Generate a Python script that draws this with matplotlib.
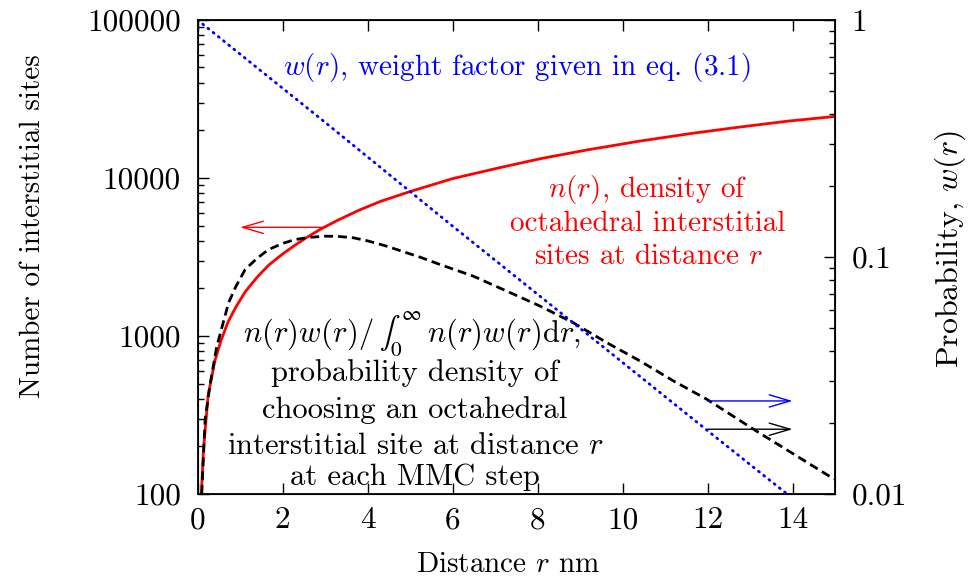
import matplotlib
matplotlib.use("Agg")
import matplotlib.pyplot as plt
from matplotlib.offsetbox import TextArea, HPacker, AnnotationBbox

# n(r), red solid, left axis
r_n = [0.09, 0.14, 0.25, 0.41, 0.55, 0.72, 0.9, 1.12, 1.4, 1.67, 2.0, 2.29, 2.6, 2.9, 3.3, 3.8,
       4.3, 5.0, 6.0, 7.1, 8.1, 9.2, 10.4, 11.6, 12.7, 13.9, 15.0]
n_vals = [100, 190, 420, 700, 930, 1230, 1520, 1900, 2350, 2800, 3300, 3750, 4250, 4750, 5400, 6250,
          7100, 8200, 9900, 11600, 13300, 15100, 17100, 19100, 20900, 22900, 24500]

# normalised n(r)w(r), black dashed, left axis
r_p = [0.1, 0.18, 0.29, 0.45, 0.73, 0.9, 1.12, 1.4, 1.67, 2.0, 2.29, 2.6, 3.0, 3.3, 3.67, 4.0,
       4.45, 5.24, 5.71, 6.49, 7.28, 8.06, 8.84, 9.63, 10.41, 11.2, 11.98, 13.08, 14.92, 15.0]
p_vals = [100, 297, 483, 850, 1620, 2050, 2630, 3100, 3520, 3850, 4070, 4200, 4280, 4270, 4180, 4000,
          3700, 3150, 2830, 2390, 1920, 1545, 1213, 907, 695, 519, 398, 257, 127, 124]

# w(r), blue dotted, right axis
r_w = [0.0, 3.0, 6.0, 9.0, 12.0, 13.87]
w_vals = [1.0, 0.37, 0.135, 0.05, 0.0185, 0.01]

xticks = [0, 2, 4, 6, 8, 10, 12, 14]
yticks_left = [100, 1000, 10000, 100000]
yticks_right = [0.01, 0.1, 1]

plt.rcParams["font.family"] = "serif"
plt.rcParams["font.serif"] = ["cmr10"]
plt.rcParams["mathtext.fontset"] = "cm"
plt.rcParams["axes.unicode_minus"] = False
plt.rcParams["axes.formatter.use_mathtext"] = True

fs = 21
tfs = 22.5
bfs = 22
fig = plt.figure(figsize=(9.71, 5.86), dpi=100)
fig.subplots_adjust(left=0.2034, right=0.86, bottom=0.157, top=0.966)
ax = fig.add_subplot(111)
ax2 = ax.twinx()

ax.plot(r_n, n_vals, color="#ff0000", lw=2.0)
ax.plot(r_p, p_vals, color="black", lw=2.0, dashes=(3.2, 1.8))
ax2.plot(r_w, w_vals, color="#0000ff", lw=2.0, dashes=(0.4, 2.0), dash_capstyle="round")

ax.set_xlim(0, 15)
ax.set_yscale("log")
ax.set_ylim(100, 100000)
ax2.set_yscale("log")
ax2.set_ylim(0.01, 1)

ax.set_xticks(xticks)
ax.set_xticklabels([str(t) for t in xticks], fontsize=tfs)
ax.set_yticks(yticks_left)
ax.set_yticklabels([str(t) for t in yticks_left], fontsize=tfs)
ax2.set_yticks(yticks_right)
ax2.set_yticklabels(["0.01", "0.1", "1"], fontsize=tfs)

ax.tick_params(axis="x", which="both", direction="in", top=True, length=8, width=1, pad=9)
ax.tick_params(axis="y", which="major", direction="in", left=True, right=False, length=8, width=1, pad=12)
ax.tick_params(axis="y", which="minor", direction="in", left=True, right=False, length=4, width=1)
ax2.tick_params(axis="y", which="major", direction="in", length=8, width=1, pad=12)
ax2.tick_params(axis="y", which="minor", direction="in", length=4, width=1)
ax2.yaxis.set_minor_formatter(matplotlib.ticker.NullFormatter())
ax.yaxis.set_minor_formatter(matplotlib.ticker.NullFormatter())
for sp in ax.spines.values():
    sp.set_linewidth(1.3)

ax.set_xlabel(r"Distance $r$ nm", fontsize=fs, va="center")
ax.xaxis.set_label_coords(0.487, -0.15)
ax.set_ylabel("Number of interstitial sites", fontsize=fs, va="center")
ax.yaxis.set_label_coords(-0.258, 0.565)
ax2.set_ylabel(r"Probability, $w(r)$", fontsize=23, va="center")
ax2.yaxis.set_label_coords(1.181, 0.517)

# arrows pointing to the axis each curve belongs to
arrows = [((2.95, 4870), (1.0, 4870), "#ff0000"),
          ((12.0, 388), (14.0, 388), "#0000ff"),
          ((12.0, 257), (14.0, 257), "black")]
for start, end, col in arrows:
    ax.annotate("", xy=end, xytext=start,
                arrowprops=dict(arrowstyle="->,head_length=0.75,head_width=0.22",
                                color=col, lw=1.0, mutation_scale=20,
                                shrinkA=0, shrinkB=0))

ax.text(0.501, 0.899, r"$w(r)$, weight factor given in eq. (3.1)", color="#0000ff",
        fontsize=fs, ha="center", va="center", transform=ax.transAxes)

red_lines = [r"$n(r)$, density of", "octahedral interstitial", r"sites at distance $r$"]
red_y = [190, 224, 257]
for txt, py in zip(red_lines, red_y):
    ax.text((648 - 197.5) / 637.5, (494 - py) / 474.0, txt, color="#ff0000",
            fontsize=fs, ha="center", va="center", transform=ax.transAxes)

# first black line: the integral comes from the stix set so it stays text sized
parts = [TextArea(r"$n(r)w(r)/$", textprops=dict(fontsize=bfs)),
         TextArea(r"$\int_0^\infty$", textprops=dict(fontsize=bfs, math_fontfamily="stix")),
         TextArea(r"$n(r)w(r)\mathrm{d}r$,", textprops=dict(fontsize=bfs))]
line1 = HPacker(children=parts, align="baseline", pad=0, sep=4)
ab = AnnotationBbox(line1, ((412 - 197.5) / 637.5, (494 - 334) / 474.0), xycoords="axes fraction",
                    frameon=False, box_alignment=(0.5, 0.5), pad=0)
ax.add_artist(ab)

black_lines = ["probability density of", "choosing an octahedral",
               r"interstitial site at distance $r$", "at each MMC step"]
black_y = [373, 410, 446, 477]
for txt, py in zip(black_lines, black_y):
    ax.text((415 - 197.5) / 637.5, (494 - py) / 474.0, txt, color="black",
            fontsize=bfs, ha="center", va="center", transform=ax.transAxes)

fig.savefig("out.png", dpi=100)
